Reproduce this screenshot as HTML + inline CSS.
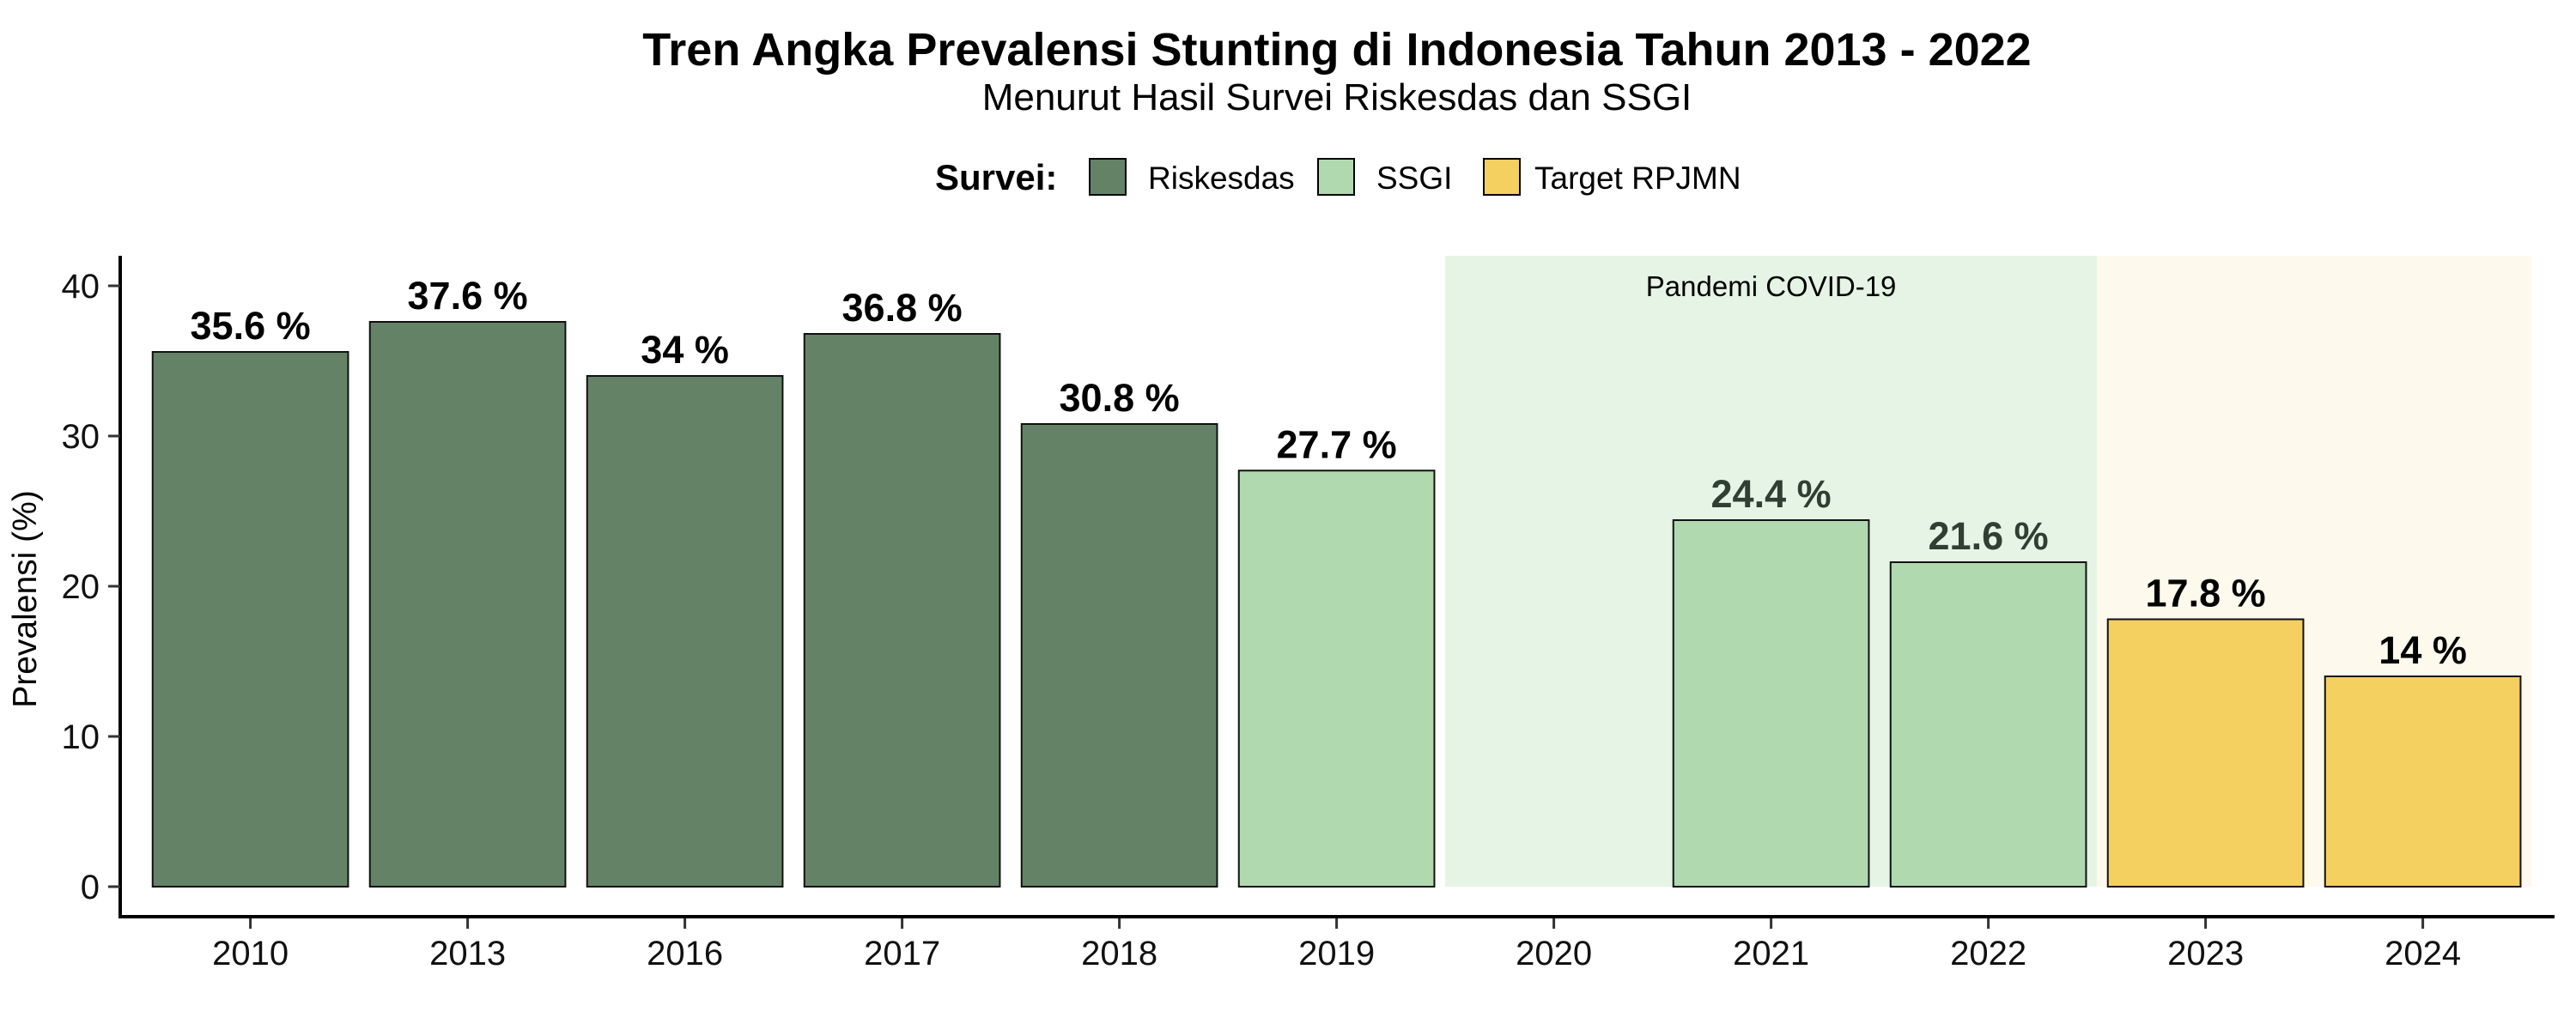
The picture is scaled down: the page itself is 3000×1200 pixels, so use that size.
<!DOCTYPE html>
<html><head><meta charset="utf-8"><style>
html,body{margin:0;padding:0;background:#fff;}
svg{display:block;font-family:"Liberation Sans",sans-serif;}
</style></head><body>
<svg id="chart" width="3000" height="1200" viewBox="0 0 3000 1200">
<text x="1557" y="76" text-anchor="middle" font-size="54" font-weight="bold">Tren Angka Prevalensi Stunting di Indonesia Tahun 2013 - 2022</text>
<text x="1557" y="128" text-anchor="middle" font-size="44">Menurut Hasil Survei Riskesdas dan SSGI</text>
<g>
<text x="1089" y="221" font-size="42" font-weight="bold">Survei:</text>
<rect x="1269" y="185" width="42" height="42" fill="#648366" stroke="#000" stroke-width="2"/>
<text x="1337" y="220" font-size="37">Riskesdas</text>
<rect x="1535" y="185" width="42" height="42" fill="#b0d9b0" stroke="#000" stroke-width="2"/>
<text x="1603" y="220" font-size="37">SSGI</text>
<rect x="1728" y="185" width="42" height="42" fill="#f4d060" stroke="#000" stroke-width="2"/>
<text x="1787" y="220" font-size="37">Target RPJMN</text>
</g>
<text transform="translate(42,698) rotate(-90)" text-anchor="middle" font-size="39">Prevalensi (%)</text>
<g id="plot"></g>
</svg>
<script>
const categories=["2010","2013","2016","2017","2018","2019","2020","2021","2022","2023","2024"];
const values=[35.6,37.6,34,36.8,30.8,27.7,null,24.4,21.6,17.8,14];
const surveys=["Riskesdas","Riskesdas","Riskesdas","Riskesdas","Riskesdas","SSGI",null,"SSGI","SSGI","Target","Target"];
const labels=["35.6 %","37.6 %","34 %","36.8 %","30.8 %","27.7 %","","24.4 %","21.6 %","17.8 %","14 %"];
const yTicks=[0,10,20,30,40];
const fills={Riskesdas:"#648366",SSGI:"#b0d9b0",Target:"#f4d060"};
const NS="http://www.w3.org/2000/svg";
const X0=291.6,STEP=253,Y0=1033,PER=17.5;
const xs=i=>X0+i*STEP;
const ys=v=>Y0-v*PER;
const g=document.getElementById("plot");
function mk(t,a){const e=document.createElementNS(NS,t);for(const k in a)e.setAttribute(k,a[k]);g.appendChild(e);return e;}
const bandTop=ys(42);
let e=mk("rect",{x:xs(5.5),y:bandTop,width:xs(8.5)-xs(5.5),height:Y0-bandTop,fill:"#e6f4e6"});


e=mk("rect",{x:xs(8.5),y:bandTop,width:xs(10.5)-xs(8.5),height:Y0-bandTop,fill:"#fdf9ec"});


e=mk("text",{x:(xs(5.5)+xs(8.5))/2,y:bandTop+47,"text-anchor":"middle","font-size":"33"});
e.textContent="Pandemi COVID-19";


const bw=STEP*0.9;
values.forEach((v,i)=>{
 if(v==null)return;
 const b=mk("rect",{x:xs(i)-bw/2,y:ys(v),width:bw,height:Y0-ys(v),fill:fills[surveys[i]],stroke:"#111",'stroke-width':2});
 
 
 const t=mk("text",{x:xs(i),y:ys(v)-15,"text-anchor":"middle","font-size":"45","font-weight":"bold",fill:(i==7||i==8)?"#2f3f32":"#000"});
 t.textContent=labels[i];
 
 
});
e=mk("line",{x1:140,y1:298,x2:140,y2:1070,stroke:"#000","stroke-width":4});


e=mk("line",{x1:138,y1:1068,x2:2975,y2:1068,stroke:"#000","stroke-width":4});


yTicks.forEach(v=>{
 const l=mk("line",{x1:126,y1:ys(v),x2:140,y2:ys(v),stroke:"#333","stroke-width":3});
 
 
 const t=mk("text",{x:116,y:ys(v)+14,"text-anchor":"end","font-size":"40",fill:"#111"});
 t.textContent=v;
 
 
});
categories.forEach((c,i)=>{
 const l=mk("line",{x1:xs(i),y1:1070,x2:xs(i),y2:1082,stroke:"#333","stroke-width":3});
 
 
 const t=mk("text",{x:xs(i),y:1124,"text-anchor":"middle","font-size":"40",fill:"#111"});
 t.textContent=c;
 
 
});
</script>
</body></html>
